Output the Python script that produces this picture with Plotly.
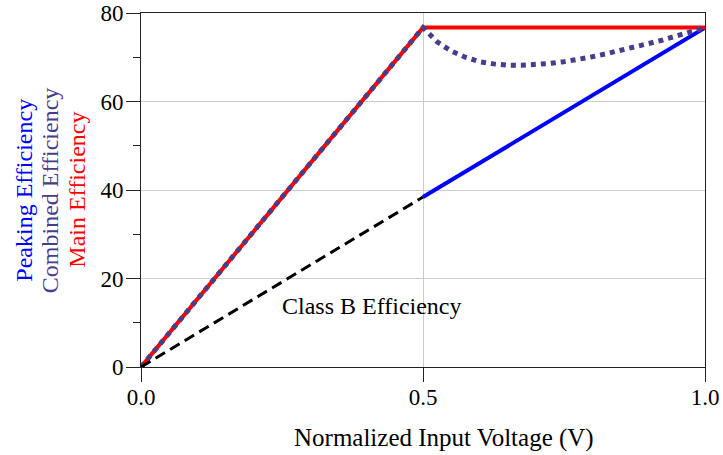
import plotly.graph_objects as go

# Normalized input voltage (x) and efficiencies in percent
v_main = [0.0, 0.5, 1.0]
eff_main = [0.0, 76.7, 76.7]

v_peak = [0.5, 1.0]
eff_peak = [38.4, 76.7]

v_classb = [0.0, 0.5]
eff_classb = [0.0, 38.4]

v_comb = [0.0, 0.5, 0.525, 0.55, 0.575, 0.6, 0.625, 0.65, 0.675, 0.7, 0.725,
          0.75, 0.775, 0.8, 0.825, 0.85, 0.875, 0.9, 0.925, 0.95, 0.975, 1.0]
eff_comb = [0.0, 76.7, 73.5, 71.4, 70.0, 69.0, 68.5, 68.2, 68.2, 68.3, 68.6,
            69.0, 69.5, 70.1, 70.8, 71.5, 72.3, 73.1, 73.9, 74.8, 75.8, 76.7]

x_tickvals = [0.0, 0.5, 1.0]
x_ticktext = ["0.0", "0.5", "1.0"]
y_tickvals = [0, 20, 40, 60, 80]
y_minorvals = [10, 30, 50, 70]

FONT = "Liberation Serif"
BLUE = "#0000FF"
RED = "#FF0000"
PURPLE = "#483D8B"

fig = go.Figure()
fig.add_trace(go.Scatter(x=v_peak, y=eff_peak, mode="lines",
                         line=dict(color=BLUE, width=4), name="Peaking"))
fig.add_trace(go.Scatter(x=v_main, y=eff_main, mode="lines",
                         line=dict(color=RED, width=4), name="Main"))
fig.add_trace(go.Scatter(x=v_comb, y=eff_comb, mode="lines",
                         line=dict(color=PURPLE, width=5, dash="dot"),
                         name="Combined"))
fig.add_trace(go.Scatter(x=v_classb, y=eff_classb, mode="lines",
                         line=dict(color="black", width=3, dash="11px,6px"),
                         name="Class B"))

# Stacked, colour-coded y-axis labels
ylabels = [("Peaking Efficiency", BLUE, -0.208),
           ("Combined Efficiency", PURPLE, -0.161),
           ("Main Efficiency", RED, -0.114)]
for text, color, xpos in ylabels:
    fig.add_annotation(text=text, xref="paper", yref="paper", x=xpos, y=0.5,
                       xanchor="center", yanchor="middle", textangle=-90,
                       showarrow=False, font=dict(family=FONT, size=24, color=color))

fig.add_annotation(text="Class B Efficiency", xref="x", yref="y", x=0.41, y=13.7,
                   xanchor="center", yanchor="middle", showarrow=False,
                   font=dict(family=FONT, size=24, color="black"))

fig.add_annotation(text="Normalized Input Voltage (V)", xref="paper", yref="paper",
                   x=0.537, y=-0.2, xanchor="center", yanchor="middle",
                   showarrow=False, font=dict(family=FONT, size=25, color="black"))

fig.update_layout(
    width=723, height=455,
    margin=dict(l=141, r=18, t=13, b=88),
    paper_bgcolor="white", plot_bgcolor="white",
    showlegend=False,
    font=dict(family=FONT, size=23, color="black"),
)
fig.update_xaxes(
    range=[0, 1], tickmode="array", tickvals=x_tickvals, ticktext=x_ticktext,
    ticks="outside", ticklen=14, tickcolor="#222", tickwidth=1,
    ticklabelstandoff=-5,
    showgrid=True, gridcolor="#cccccc", gridwidth=1,
    showline=True, linecolor="#222", linewidth=1, mirror=True,
    zeroline=False, automargin=False,
    tickfont=dict(family=FONT, size=23),
)
fig.update_yaxes(
    range=[0, 80], tickmode="array", tickvals=y_tickvals,
    ticks="outside", ticklen=14, tickcolor="#222", tickwidth=1,
    ticklabelstandoff=-2,
    minor=dict(tickmode="array", tickvals=y_minorvals, ticks="outside",
               ticklen=7, tickcolor="#222", showgrid=False),
    showgrid=True, gridcolor="#cccccc", gridwidth=1,
    showline=True, linecolor="#222", linewidth=1, mirror=True,
    zeroline=True, zerolinecolor="#555", zerolinewidth=1.5,
    automargin=False, ticklabeloverflow="allow",
    tickfont=dict(family=FONT, size=23),
)

fig.write_html("out.html")
